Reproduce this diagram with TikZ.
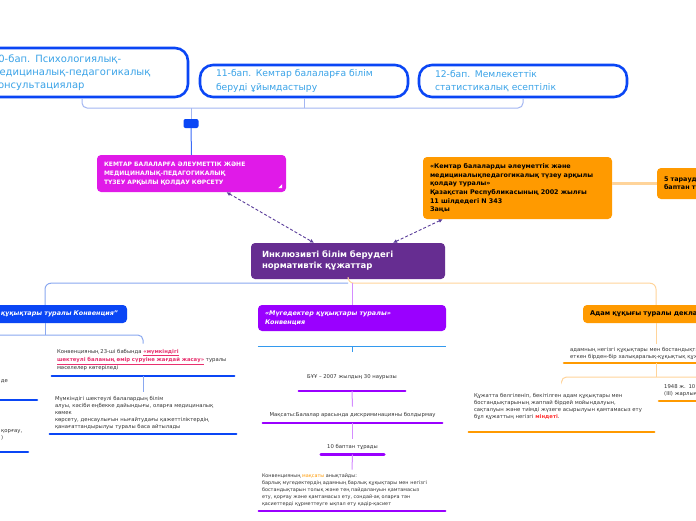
\documentclass[tikz,border=0pt]{standalone}
\usepackage{fontspec}
\setmainfont{DejaVu Sans}
\usetikzlibrary{arrows.meta,calc}
\definecolor{bbl}{HTML}{0A46F5}
\definecolor{tblue}{HTML}{3AA3E8}
\definecolor{perl}{HTML}{A3B6F2}
\definecolor{mag}{HTML}{E01AE8}
\definecolor{orng}{HTML}{FF9A00}
\definecolor{lorng}{HTML}{FFD49A}
\definecolor{cpur}{HTML}{662D91}
\definecolor{vio}{HTML}{9A00FF}
\definecolor{lvio}{HTML}{D48CFF}
\definecolor{lblue}{HTML}{8AA8F0}
\definecolor{sblue}{HTML}{3399EE}
\definecolor{dpur}{HTML}{5A3D9A}
\definecolor{dgray}{HTML}{333333}
\definecolor{pinkc}{HTML}{E8306E}
\definecolor{redc}{HTML}{FF3333}
\newcommand\pinkul[1]{{\bfseries\color{pinkc}\underline{#1}}}
\begin{document}
\begin{tikzpicture}[x=1pt,y=-1pt,
  topbox/.style={draw=bbl, line width=2.6pt, rounded corners=13pt, fill=white, text=tblue, align=left, minimum height=32pt},
  filledbox/.style={rounded corners=4pt, align=left, inner ysep=0pt},
  small/.style={font=\fontsize{5.3}{7}\selectfont, text=dgray, inner xsep=5pt, inner ysep=0pt},
  ulb/.style={draw=bbl, line width=2.6pt, line cap=round},
  ulv/.style={draw=vio, line width=2.6pt, line cap=round},
  ulo/.style={draw=orng, line width=2.6pt, line cap=round},
  perline/.style={draw=perl, line width=1pt},
  lbl/.style={draw=lblue, line width=1pt},
  lvl/.style={draw=lvio, line width=1pt},
  lor/.style={draw=lorng, line width=1pt},
  darr/.style={draw=dpur, line width=0.9pt, dash pattern=on 3pt off 2pt, {Latex[length=4pt,width=4pt]}-{Latex[length=4pt,width=4pt]}}
]
\clip (0,0) rectangle (696,520);
\fill[white] (0,0) rectangle (696,520);

% top boxes
\node[topbox, minimum height=49pt, text width=180pt, inner xsep=16pt, font=\fontsize{10}{13}\selectfont] (b10) at (82,72.5) {10-бап. Психологиялық-\\медициналық-педагогикалық\\консультациялар};
\node[topbox, text width=176pt, inner xsep=16pt, font=\fontsize{9.2}{13.5}\selectfont] (b11) at (304,81) {11-бап. Кемтар балаларға білім\\беруді ұйымдастыру};
\node[topbox, text width=176pt, inner xsep=16pt, font=\fontsize{9.2}{13.5}\selectfont] (b12) at (523,81) {12-бап. Мемлекеттік\\статистикалық есептілік};
\coordinate (bj) at (304,108);
\draw[perline, rounded corners=5pt] (b10.south) |- (bj) -| (b12.south);
\draw[perline] (b11.south) -- (bj);
\node[fill=bbl, rounded corners=2pt, minimum width=15pt, minimum height=9pt, inner sep=0pt] (tog) at (191,123.5) {};
\draw[perline] (tog.north) -- (tog.north |- bj);

% magenta
\node[filledbox, fill=mag, text=white, font=\bfseries\fontsize{6}{9}\selectfont, text width=175pt, inner xsep=7pt, minimum height=37pt] (mag) at (191.5,173.5) {КЕМТАР БАЛАЛАРҒА ӘЛЕУМЕТТІК ЖӘНЕ\\МЕДИЦИНАЛЫҚ-ПЕДАГОГИКАЛЫҚ\\ТҮЗЕУ АРҚЫЛЫ ҚОЛДАУ КӨРСЕТУ};
\draw[draw=bbl!80, line width=1pt] (tog.south) -- (mag.north);
\fill[white] ([xshift=-4pt,yshift=4pt]mag.south east) -- ([xshift=-4pt,yshift=8pt]mag.south east) -- ([xshift=-8pt,yshift=4pt]mag.south east) -- cycle;

% orange law
\node[filledbox, fill=orng, text=black, font=\bfseries\fontsize{6.4}{8.7}\selectfont, text width=175pt, inner xsep=7pt, minimum height=62pt] (orn) at (517.5,188) {«Кемтар балаларды әлеуметтік және\\медициналықпедагогикалық түзеу арқылы\\қолдау туралы»\\Қазақстан Республикасының 2002 жылғы\\11 шілдедегі N 343\\Заңы};
\node[filledbox, fill=orng, text=black, font=\bfseries\fontsize{6.4}{8}\selectfont, text width=60pt, inner xsep=7pt, minimum height=31pt] (orr) at (694,183.5) {5 тараудан,\\баптан тұрады};
\draw[draw=lorng, line width=2.2pt] (orn.east |- orr.west) -- (orr.west);

% central
\node[filledbox, fill=cpur, text=white, font=\bfseries\fontsize{8.5}{11}\selectfont, text width=172pt, inner xsep=11pt, minimum height=36pt] (cen) at (348,261) {Инклюзивті білім берудегі\\нормативтік құжаттар};
\draw[darr] ([xshift=35pt]mag.south) -- ([xshift=-34pt]cen.north);
\draw[darr] ([xshift=20pt]orn.south west) -- ([xshift=45pt]cen.north);

% second level boxes
\node[filledbox, fill=bbl, text=white, font=\bfseries\itshape\fontsize{6.4}{8}\selectfont, text width=146pt, inner xsep=9pt, minimum height=18pt, align=right] (lcv) at (45,314) {“Бала құқықтары туралы Конвенция”};
\node[filledbox, fill=vio, text=white, font=\bfseries\itshape\fontsize{6.4}{9}\selectfont, text width=174pt, inner xsep=7pt, minimum height=26pt] (conv) at (352,318) {«Мүгедектер құқықтары туралы»\\Конвенция};
\node[filledbox, fill=orng, text=black, font=\bfseries\fontsize{6.6}{8}\selectfont, text width=132pt, inner xsep=7pt, minimum height=18pt] (adam) at (656,314) {Адам құқығы туралы декларация};

\draw[lbl, rounded corners=6pt] ([yshift=-4pt]cen.south) -| (lcv.north);
\draw[lor, rounded corners=6pt] (cen.south) |- ([yshift=-4pt]cen.south -| adam.north) -- (adam.north);
\draw[lvl] ([xshift=4pt,yshift=-4pt]cen.south) -- (conv.north);

% left column
\node[small, anchor=south, minimum height=32pt, text width=172pt, align=left] (blk1) at (143,376) {Конвенцияның 23-ші бабында \pinkul{«мүмкіндігі}\\\pinkul{шектеулі баланың өмір сүруіне жағдай жасау»} туралы\\мәселелер көтеріледі};
\draw[ulb] (blk1.south west) -- (blk1.south east);
\node[small, anchor=south, minimum height=42pt, text width=176pt, align=left] (blk2) at (143,434) {Мүмкіндігі шектеулі балалардың білім\\алуы, кәсіби еңбекке дайындығы, оларға медициналық\\көмек\\көрсету, денсаулығын нығайтудағы қажеттіліктердің\\қанағаттандырылуы туралы баса айтылады};
\draw[ulb] (blk2.south west) -- (blk2.south east);
\coordinate (lfree) at (-10,335);
\draw[lbl] (lcv.south) -- (lcv.south |- lfree);
\draw[lbl, rounded corners=5pt] (lfree) -| (blk1.north);
\draw[lbl] (blk1.south) -- (blk2.north);
\node[small, anchor=east, inner xsep=0pt] (fa) at (8,381) {де};
\draw[ulb] (-5,400) -- (37,400);
\node[small, anchor=north west, inner xsep=0pt, align=left] (fb) at (1,429) {қорғау,\\)};
\draw[ulb] (-5,452) -- (28,452);

% middle column
\node[minimum width=188pt, minimum height=0pt, inner sep=0pt] (blank) at (352,346) {};
\draw[draw=sblue, line width=1pt] (blank.west) -- (blank.east);
\coordinate (bstub) at (352,352);
\draw[draw=sblue, line width=1pt] (blank.center) -- (bstub);
\node[small, anchor=south, minimum height=28pt, minimum width=106pt] (bsu) at (352,391) {БҰҰ – 2007 жылдың 30 наурызы};
\draw[ulv] (bsu.south west) -- (bsu.south east);
\node[small, anchor=south, minimum height=16pt, minimum width=179pt] (maks) at (352.5,423) {Мақсаты:Балалар арасында дискриминацияны болдырмау};
\draw[ulv] (maks.south west) -- (maks.south east);
\node[small, anchor=south, minimum height=15pt, minimum width=63pt] (bap) at (352.5,454.5) {10 баптан тұрады};
\draw[ulv] (bap.south west) -- (bap.south east);
\node[small, anchor=south, minimum height=41pt, text width=180pt, inner xsep=3pt, align=left, font=\fontsize{4.9}{6.9}\selectfont] (cblk) at (352,511) {Конвенцияның {\color{orng}мақсаты} анықтайды:\\барлық мүгедектердің адамның барлық құқықтары мен негізгі\\бостандықтарын толық және тең пайдалануын қамтамасыз\\ету, қорғау және қамтамасыз ету, сондай-ақ оларға тән\\қасиеттерді құрметтеуге ықпал ету қадір-қасиет};
\draw[ulv] (cblk.south west) -- (cblk.south east);
\draw[lvl] (bsu.south) -- (maks.north);
\draw[lvl] (maks.south) -- (bap.north);
\draw[lvl] (bap.south) -- (cblk.north);

% right column
\node[small, anchor=south west, minimum height=19pt, text width=180pt, inner xsep=6pt, align=left] (rtx1) at (564,363) {адамның негізгі құқықтары мен бостандықтарын жария\\еткен бірден-бір халықаралық-құқықтық құжат};
\draw[ulo] (rtx1.south west) -- (rtx1.south east);
\draw[lor] (adam.south) -- (adam.south |- rtx1.north);
\coordinate (rfree) at (720,377);
\node[small, anchor=south, minimum height=50pt, text width=175pt, align=left] (rblk) at (561.5,432) {Құжатта белгіленіп, бекітілген адам құқықтары мен\\бостандықтарының жаппай бірдей мойындалуын,\\сақталуын және тиімді жүзеге асырылуын қамтамасыз ету\\бұл құжаттың негізгі {\bfseries\color{redc}міндеті}.};
\draw[ulo] (rblk.south west) -- (rblk.south east);
\draw[lor] (adam.south |- rtx1.south) -- (adam.south |- rfree);
\draw[lor, rounded corners=5pt] (rfree) -| (rblk.north);
\node[small, anchor=south west, minimum height=21pt, text width=90pt, align=left] (r48) at (659,401) {1948 ж. 10 желтоқсан\\(III) жарлығымен};
\draw[ulo] (r48.south west) -- (r48.south east);
\end{tikzpicture}
\end{document}
